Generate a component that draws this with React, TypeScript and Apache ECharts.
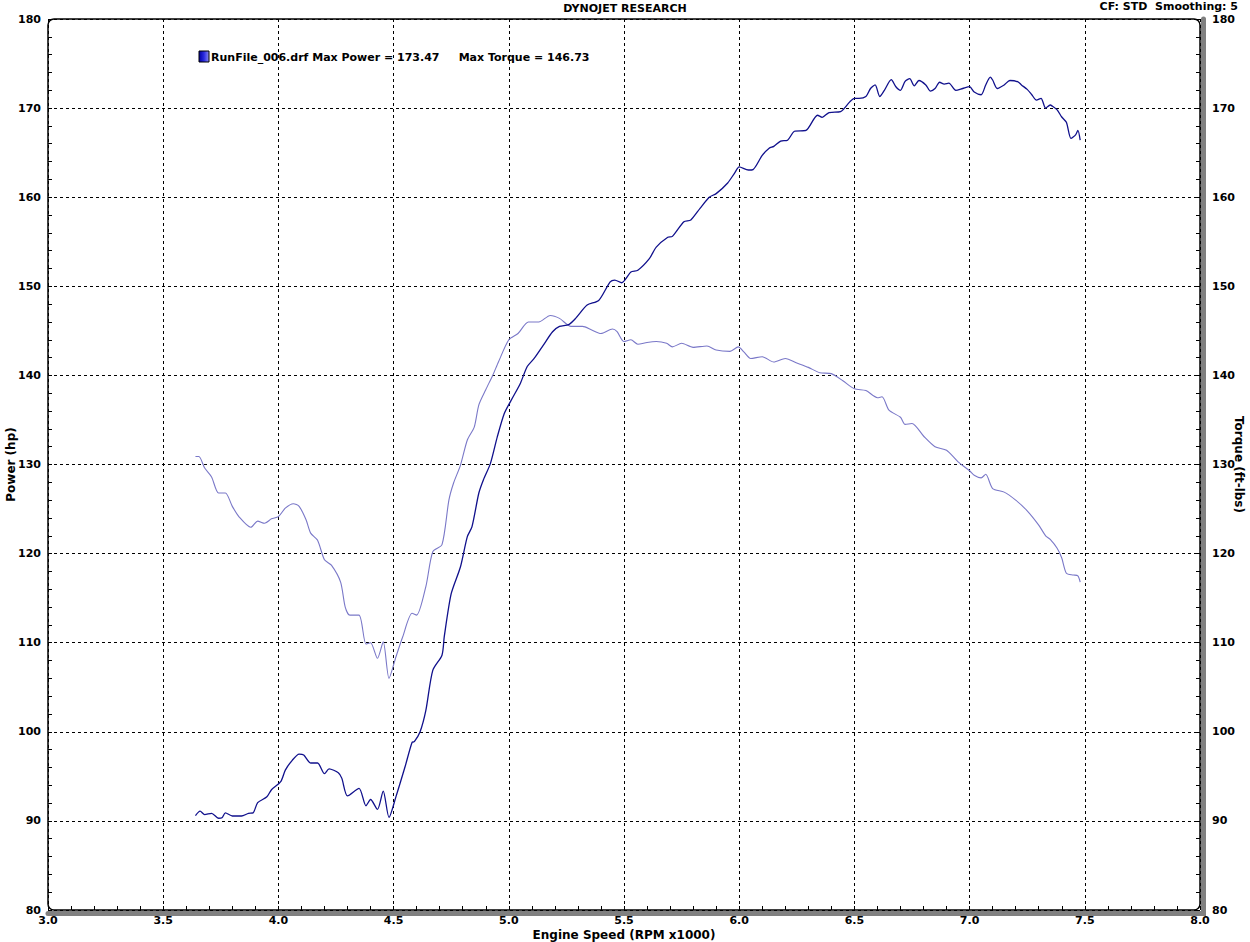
import React, { useEffect, useRef } from "react";
import * as echarts from "echarts";

const powerRpm = [3.64,3.66,3.68,3.71,3.74,3.755,3.77,3.8,3.84,3.87,3.89,3.91,3.95,3.97,4.01,4.03,4.06,4.09,4.11,4.14,4.17,4.2,4.22,4.26,4.275,4.3,4.35,4.38,4.4,4.43,4.455,4.48,4.51,4.55,4.58,4.59,4.615,4.64,4.67,4.71,4.72,4.75,4.79,4.82,4.84,4.87,4.89,4.92,4.95,4.98,5.01,5.05,5.08,5.11,5.15,5.19,5.22,5.26,5.29,5.34,5.39,5.44,5.46,5.49,5.53,5.56,5.61,5.64,5.69,5.71,5.76,5.79,5.83,5.87,5.9,5.95,5.98,6.0,6.04,6.06,6.1,6.13,6.15,6.18,6.21,6.24,6.29,6.34,6.36,6.39,6.44,6.48,6.5,6.52,6.55,6.57,6.59,6.61,6.63,6.66,6.68,6.7,6.72,6.74,6.76,6.78,6.81,6.83,6.85,6.87,6.89,6.91,6.94,6.97,7.0,7.02,7.05,7.07,7.09,7.1,7.12,7.15,7.175,7.21,7.225,7.25,7.27,7.29,7.31,7.33,7.35,7.36,7.38,7.4,7.42,7.44,7.46,7.47,7.48];
const powerHp = [90.6,91.1,90.7,90.85,90.3,90.35,90.9,90.55,90.55,90.85,90.9,92.05,92.7,93.5,94.4,95.7,96.8,97.5,97.4,96.5,96.5,95.3,95.85,95.4,94.8,92.8,93.65,91.7,92.4,91.3,93.35,90.4,92.7,96.1,98.8,98.9,100.0,102.4,106.9,108.6,110.7,115.5,118.5,121.9,123.0,126.8,128.3,130.1,133.1,135.7,137.2,139.1,141.0,141.9,143.4,144.9,145.5,145.7,146.4,147.9,148.4,150.5,150.7,150.4,151.6,151.8,153.1,154.4,155.5,155.6,157.25,157.45,158.75,160.0,160.4,161.6,162.7,163.4,163.05,163.1,164.7,165.5,165.7,166.3,166.4,167.4,167.5,169.2,168.97,169.5,169.6,170.7,171.1,171.1,171.3,172.2,172.6,171.3,172.0,173.2,172.4,172.0,173.0,173.3,172.5,173.1,172.6,171.9,172.2,172.9,172.7,172.8,172.0,172.2,172.4,171.8,171.5,172.6,173.47,173.15,172.2,172.6,173.1,172.95,172.6,172.1,171.5,170.9,171.1,170.0,170.35,170.2,169.8,169.0,168.4,166.6,167.0,167.5,166.4];

const torqueRpm = [3.64,3.655,3.68,3.71,3.74,3.77,3.8,3.83,3.88,3.91,3.94,3.97,4.0,4.03,4.065,4.09,4.12,4.14,4.17,4.2,4.23,4.27,4.29,4.31,4.35,4.38,4.4,4.43,4.455,4.48,4.51,4.54,4.58,4.6,4.64,4.67,4.71,4.74,4.76,4.79,4.82,4.85,4.87,4.9,4.93,4.955,5.0,5.04,5.085,5.13,5.18,5.22,5.27,5.32,5.36,5.4,5.45,5.47,5.5,5.53,5.56,5.6,5.64,5.685,5.71,5.75,5.8,5.86,5.9,5.96,5.996,6.02,6.05,6.1,6.15,6.2,6.25,6.3,6.35,6.4,6.45,6.5,6.55,6.6,6.62,6.65,6.7,6.72,6.75,6.8,6.85,6.9,6.95,7.0,7.02,7.05,7.07,7.1,7.15,7.2,7.25,7.3,7.33,7.35,7.38,7.4,7.42,7.45,7.47,7.48];
const torqueFtLb = [130.9,130.9,129.6,128.6,126.8,126.8,125.3,124.1,122.95,123.65,123.4,123.9,124.15,125.1,125.6,125.3,123.8,122.3,121.5,119.3,118.7,116.8,114.0,113.1,113.1,109.85,110.0,108.25,110.1,106.0,108.4,110.7,113.3,113.1,116.3,120.2,121.0,126.0,127.9,129.9,132.75,134.2,136.7,138.4,140.0,141.5,144.0,144.7,146.0,146.0,146.73,146.4,145.5,145.5,145.1,144.7,145.2,144.9,143.8,144.0,143.5,143.7,143.8,143.6,143.2,143.6,143.15,143.3,142.85,142.7,143.2,142.65,141.9,142.1,141.5,141.9,141.4,140.9,140.3,140.2,139.4,138.5,138.3,137.5,137.6,136.1,135.3,134.5,134.6,133.2,132.0,131.6,130.3,129.3,128.8,128.5,128.9,127.3,126.9,126.0,124.8,123.2,122.0,121.6,120.6,119.5,117.8,117.6,117.5,116.8];

const chartTitle = "DYNOJET RESEARCH";
const cornerNote = "CF: STD  Smoothing: 5";
const legendText = "RunFile_006.drf Max Power = 173.47     Max Torque = 146.73";
const xName = "Engine Speed (RPM x1000)";
const yLeftName = "Power (hp)";
const yRightName = "Torque (ft-lbs)";

const FONT = "DejaVu Sans";

export default function App() {
  const ref = useRef<HTMLDivElement>(null);
  useEffect(() => {
    if (!ref.current) return;
    const chart = echarts.init(ref.current, null, { renderer: "svg" });
    const L = 48, T = 19, W = 1152, H = 891;
    const labelStyle = { color: "#000", fontFamily: FONT, fontWeight: "bold" as const, fontSize: 11 };
    const dashed = { show: true, lineStyle: { color: "#000", type: [3, 3] as any, width: 1 } };
    const shadowAxis = {
      type: "value", offset: 3, silent: true,
      axisLine: { show: true, lineStyle: { color: "#808080", width: 5 } },
      axisTick: { show: false }, axisLabel: { show: false }, splitLine: { show: false },
    };
    chart.setOption({
      animation: false,
      backgroundColor: "#fff",
      title: [
        { text: chartTitle, left: "center", top: 3, padding: 0, textStyle: { ...labelStyle, fontSize: 11 } },
        { text: cornerNote, right: 12, top: 1, padding: 0, textStyle: { ...labelStyle, fontSize: 11 } },
      ],
      grid: { left: L, top: T, width: W, height: H, containLabel: false, outerBoundsMode: "none" },
      xAxis: [
        {
          type: "value", min: 3, max: 8, interval: 0.5, position: "bottom",
          name: xName, nameLocation: "middle", nameGap: 19, nameMoveOverlap: false,
          nameTextStyle: { ...labelStyle, fontSize: 12 },
          axisLine: { show: false },
          axisTick: { show: true, inside: true, length: 4, lineStyle: { color: "#000" } },
          minorTick: { show: true, splitNumber: 5, length: 4, lineStyle: { color: "#000" } },
          axisLabel: { ...labelStyle, margin: 5, formatter: (v: number) => v.toFixed(1) },
          splitLine: dashed,
        },
        { ...shadowAxis, min: 3, max: 8, position: "bottom" },
      ],
      yAxis: [
        {
          type: "value", min: 80, max: 180, interval: 10, position: "left",
          name: yLeftName, nameLocation: "middle", nameGap: 31, nameMoveOverlap: false,
          nameTextStyle: { ...labelStyle, fontSize: 12 },
          axisLine: { show: false },
          axisTick: { show: true, inside: true, length: 4, lineStyle: { color: "#000" } },
          minorTick: { show: true, splitNumber: 5, length: 4, lineStyle: { color: "#000" } },
          axisLabel: { ...labelStyle, margin: 7 },
          splitLine: dashed,
        },
        {
          type: "value", min: 80, max: 180, interval: 10, position: "right",
          name: yRightName, nameLocation: "middle", nameGap: 33, nameRotate: -90, nameMoveOverlap: false,
          nameTextStyle: { ...labelStyle, fontSize: 12 },
          axisLine: { show: false },
          axisTick: { show: true, inside: true, length: 4, lineStyle: { color: "#000" } },
          minorTick: { show: true, splitNumber: 5, length: 4, lineStyle: { color: "#000" } },
          axisLabel: { ...labelStyle, margin: 12 },
          splitLine: { show: false },
        },
        { ...shadowAxis, min: 80, max: 180, position: "right" },
      ],
      graphic: {
        elements: [
          { type: "rect", z: 49, silent: true, x: L + 6, y: T + H + 1, shape: { x: 0, y: 0, width: W, height: 5 }, style: { fill: "#808080" } },
          { type: "rect", z: 49, silent: true, x: L + W + 1, y: T + 6, shape: { x: 0, y: 0, width: 5, height: H }, style: { fill: "#808080" } },
          { type: "rect", z: 50, silent: true, x: L, y: T, shape: { x: 0, y: 0, width: W, height: H, r: 6 }, style: { fill: "none", stroke: "#000", lineWidth: 1.5 } },
          { type: "rect", z: 60, silent: true, x: 199, y: 51, shape: { x: 0, y: 0, width: 10, height: 11 }, style: { fill: new echarts.graphic.LinearGradient(0, 0, 1, 0, [{ offset: 0, color: "#0000a0" }, { offset: 0.5, color: "#2a2ae0" }, { offset: 1, color: "#8a8af0" }]), stroke: "#000", lineWidth: 1 } },
          { type: "text", z: 60, silent: true, x: 211, y: 57, style: { text: legendText, fill: "#000", font: `bold 11px ${FONT}`, verticalAlign: "middle" } },
        ],
      },
      series: [
        {
          type: "line", name: "Power", xAxisIndex: 0, yAxisIndex: 0, showSymbol: false, z: 5, smooth: 0.25,
          data: powerRpm.map((x, i) => [x, powerHp[i]]),
          lineStyle: { color: "#10108c", width: 1.3 },
          itemStyle: { color: "#10108c" },
        },
        {
          type: "line", name: "Torque", xAxisIndex: 0, yAxisIndex: 1, showSymbol: false, z: 4, smooth: 0.25,
          data: torqueRpm.map((x, i) => [x, torqueFtLb[i]]),
          lineStyle: { color: "#7a78c8", width: 1.1 },
          itemStyle: { color: "#7a78c8" },
        },
      ],
    });
    return () => chart.dispose();
  }, []);
  return <div ref={ref} style={{ position: "fixed", left: 0, top: 0, width: 1250, height: 942 }} />;
}
